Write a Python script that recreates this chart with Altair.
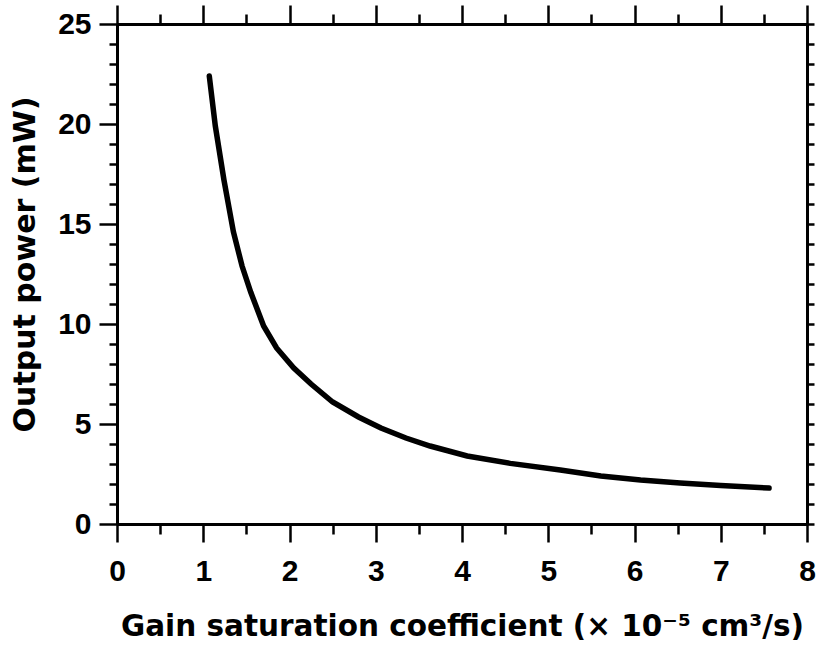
import altair as alt
import pandas as pd

# Gain saturation coefficient (x 1e-5 cm^3/s)
coef = [1.07, 1.14, 1.24, 1.35, 1.45, 1.55, 1.70, 1.85, 2.05, 2.25, 2.5, 2.8,
        3.06, 3.35, 3.63, 4.06, 4.56, 5.14, 5.61, 6.07, 6.53, 7.0, 7.56]
# Output power (mW)
power = [22.4, 19.9, 17.2, 14.6, 12.9, 11.6, 9.9, 8.8, 7.8, 7.0, 6.1, 5.35,
         4.8, 4.3, 3.9, 3.4, 3.03, 2.7, 2.4, 2.2, 2.05, 1.92, 1.8]

x_major = list(range(9))
x_minor = [i + 0.5 for i in range(8)]
y_major = [0, 5, 10, 15, 20, 25]
y_minor = [v for v in range(26) if v % 5 != 0]
y_all = list(range(26))

df = pd.DataFrame({"coef": coef, "power": power})

LABEL_FONT = "Liberation Sans"
TITLE_FONT = "DejaVu Sans"
xscale = alt.Scale(domain=[0, 8], nice=False, zero=False)
yscale = alt.Scale(domain=[0, 25], nice=False, zero=False)

x_title = "Gain saturation coefficient (\u00d7 10\u207b\u2075 cm\u00b3/s)"
y_title = "Output power (mW)"

common = dict(domainColor="black", domainWidth=3, tickColor="black",
              tickWidth=2.5, grid=False, labelOverlap=False, labelFlush=False)


def plain(orient, values, size):
    return alt.Axis(orient=orient, values=values, title=None, labels=False,
                    tickSize=size, **common)


bottom = alt.Axis(orient="bottom", values=x_major, title=x_title, tickSize=18,
                  labelFont=LABEL_FONT, labelFontSize=30, labelFontWeight="bold",
                  labelColor="black", labelPadding=14,
                  titleFont=TITLE_FONT, titleFontSize=29.5, titleFontWeight="bold",
                  titleColor="black", titlePadding=26, **common)
left = alt.Axis(orient="left", values=y_major, title=y_title, tickSize=18,
                labelFont=LABEL_FONT, labelFontSize=30, labelFontWeight="bold",
                labelColor="black", labelPadding=8,
                titleFont=TITLE_FONT, titleFontSize=30, titleFontWeight="bold",
                titleColor="black", titlePadding=17, titleY=240, **common)

main = alt.Chart(df).mark_line(color="black", strokeWidth=5.5, strokeCap="round").encode(
    x=alt.X("coef:Q", scale=xscale, axis=bottom),
    y=alt.Y("power:Q", scale=yscale, axis=left),
)
minor = alt.Chart(df).mark_line(opacity=0).encode(
    x=alt.X("coef:Q", scale=xscale, axis=plain("bottom", x_minor, 10)),
    y=alt.Y("power:Q", scale=yscale, axis=plain("left", y_minor, 8)),
)
top_right = alt.Chart(df).mark_line(opacity=0).encode(
    x=alt.X("coef:Q", scale=xscale, axis=plain("top", x_major, 19)),
    y=alt.Y("power:Q", scale=yscale, axis=plain("right", y_all, 7)),
)
top_minor = alt.Chart(df).mark_line(opacity=0).encode(
    x=alt.X("coef:Q", scale=xscale, axis=plain("top", x_minor, 10)),
    y=alt.Y("power:Q", scale=yscale, axis=None),
)

chart = alt.layer(main, minor, top_right, top_minor).resolve_axis(
    x="independent", y="independent"
).properties(
    width=690, height=500,
    autosize=alt.AutoSizeParams(type="none"),
    padding={"left": 117, "top": 24, "right": 9, "bottom": 124},
    background="white",
).configure_view(stroke=None)

chart.save("out.html", embed_options={"renderer": "svg", "actions": False})
